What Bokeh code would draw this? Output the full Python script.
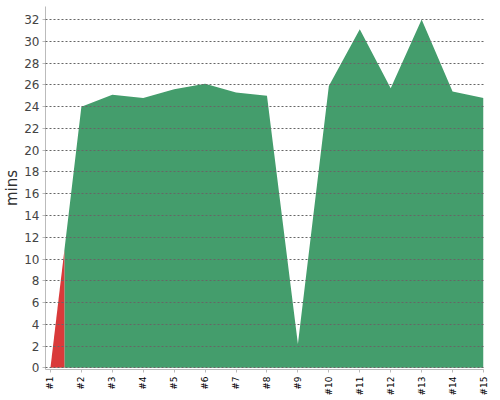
from bokeh.plotting import figure
from bokeh.models import Range1d, FixedTicker
from bokeh.embed import file_html
from bokeh.resources import INLINE

categories = ["#1", "#2", "#3", "#4", "#5", "#6", "#7", "#8", "#9", "#10",
              "#11", "#12", "#13", "#14", "#15"]
minutes = [0, 24.0, 25.1, 24.8, 25.6, 26.1, 25.3, 25.0, 2.2, 25.9,
           31.1, 25.7, 32.0, 25.4, 24.8]
red_until = 1.45  # portion of the first segment drawn in red
y_ticks = list(range(0, 33, 2))

xs = list(range(1, len(categories) + 1))
# interpolated value at the colour split
y_split = minutes[0] + (minutes[1] - minutes[0]) * (red_until - xs[0]) / (xs[1] - xs[0])

p = figure(width=492, height=398, output_backend="svg", toolbar_location=None,
           x_range=Range1d(0.84, 15), y_range=Range1d(-0.15, 33.2),
           min_border_left=39, min_border_right=9, min_border_top=6,
           min_border_bottom=25)
p.outline_line_color = None
p.background_fill_color = "white"

green_x = [red_until] + xs[1:]
green_y = [y_split] + minutes[1:]
p.varea(x=green_x, y1=[0] * len(green_x), y2=green_y, fill_color="#449d6c")
p.varea(x=[xs[0], red_until], y1=[0, 0], y2=[minutes[0], y_split], fill_color="#d93a3a")

p.xgrid.visible = False
p.ygrid.ticker = FixedTicker(ticks=y_ticks)
p.ygrid.grid_line_color = "#666666"
p.ygrid.grid_line_dash = "2 2"
p.ygrid.grid_line_width = 1
p.ygrid.level = "overlay"

p.yaxis.ticker = FixedTicker(ticks=y_ticks)
p.yaxis.axis_line_color = "#bbbbbb"
p.yaxis.major_tick_line_color = "#bbbbbb"
p.yaxis.major_tick_out = 3
p.yaxis.major_tick_in = 0
p.yaxis.minor_tick_out = 0
p.yaxis.minor_tick_in = 0
p.yaxis.minor_tick_line_color = None
p.yaxis.major_label_text_font = "DejaVu Sans"
p.yaxis.major_label_text_font_size = "12px"
p.yaxis.major_label_text_color = "#444444"
p.yaxis.major_label_standoff = 3
p.yaxis.axis_label = "mins"
p.yaxis.axis_label_text_font = "DejaVu Sans"
p.yaxis.axis_label_text_font_size = "15px"
p.yaxis.axis_label_text_font_style = "normal"
p.yaxis.axis_label_text_color = "#333333"
p.yaxis.axis_label_standoff = 0

p.xaxis.ticker = FixedTicker(ticks=xs)
p.xaxis.major_label_overrides = {x: c for x, c in zip(xs, categories)}
p.xaxis.major_label_orientation = 1.5708
p.xaxis.axis_line_color = "#bbbbbb"
p.xaxis.major_tick_line_color = "#bbbbbb"
p.xaxis.major_tick_out = 3
p.xaxis.major_tick_in = 0
p.xaxis.minor_tick_out = 0
p.xaxis.minor_tick_in = 0
p.xaxis.minor_tick_line_color = None
p.xaxis.major_label_text_font = "DejaVu Sans"
p.xaxis.major_label_text_font_size = "9px"
p.xaxis.major_label_text_color = "#000000"
p.xaxis.major_label_standoff = 4

open("out.html", "w").write(file_html(p, INLINE))
